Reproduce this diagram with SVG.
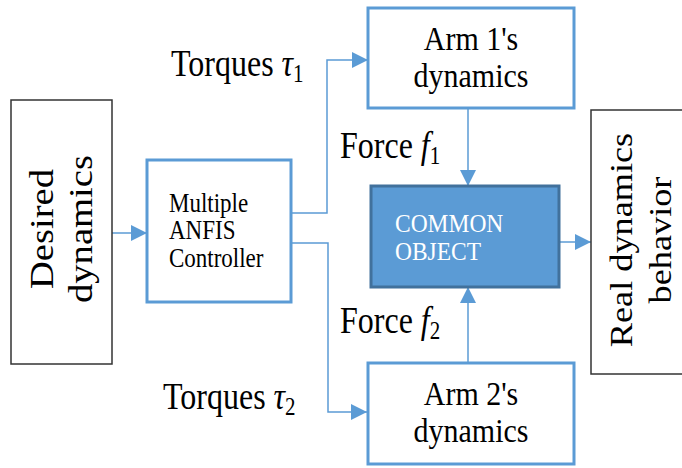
<svg xmlns="http://www.w3.org/2000/svg" width="682" height="468" viewBox="0 0 682 468">
  <style>
    .lbl { font-family: "Liberation Serif", "Times New Roman", serif; fill: #000; }
    .blue { fill: #fff; stroke: #5B9BD5; stroke-width: 3; }
    .plain { fill: #fff; stroke: #333; stroke-width: 1.5; }
    .wire { fill: none; stroke: #5B9BD5; stroke-width: 1.5; marker-end: url(#tip); }
    .it { font-style: italic; }
  </style>
  <defs>
    <marker id="tip" viewBox="0 0 16 16" refX="16" refY="8" markerWidth="16" markerHeight="16" markerUnits="userSpaceOnUse" orient="auto">
      <path d="M0,0 L16,8 L0,16 z" fill="#5B9BD5"/>
    </marker>
  </defs>

  <rect width="682" height="468" fill="#fff"/>

  <!-- connectors -->
  <g id="connectors">
    <path class="wire" d="M112,233 H147"/>
    <path class="wire" d="M291,213 H327 V60 H368"/>
    <path class="wire" d="M291,243 H328 V412 H367"/>
    <path class="wire" d="M468,108 V186"/>
    <path class="wire" d="M468,363 V287"/>
    <path class="wire" d="M559,242 H591"/>
  </g>

  <!-- input block -->
  <g id="desired">
    <rect class="plain" x="11" y="100" width="101" height="264"/>
    <g transform="translate(0 229) scale(1 1.17) rotate(-90)">
      <text class="lbl" font-size="33" text-anchor="middle" x="0" y="53">Desired</text>
      <text class="lbl" font-size="33" text-anchor="middle" x="0" y="92">dynamics</text>
    </g>
  </g>

  <!-- controller -->
  <g id="controller">
    <rect class="blue" x="147" y="160" width="144" height="142"/>
    <g class="lbl" font-size="23">
      <text transform="translate(169 212) scale(1 1.17)">Multiple</text>
      <text transform="translate(169 239) scale(1 1.17)">ANFIS</text>
      <text transform="translate(169 267) scale(1 1.17)">Controller</text>
    </g>
  </g>

  <!-- arm 1 -->
  <g id="arm1">
    <rect class="blue" x="368" y="8" width="206" height="100"/>
    <g class="lbl" font-size="30" text-anchor="middle">
      <text transform="translate(471 50) scale(1 1.1)">Arm 1's</text>
      <text transform="translate(471 87) scale(1 1.1)">dynamics</text>
    </g>
  </g>

  <!-- arm 2 -->
  <g id="arm2">
    <rect class="blue" x="368" y="363" width="206" height="101"/>
    <g class="lbl" font-size="30" text-anchor="middle">
      <text transform="translate(471 405) scale(1 1.1)">Arm 2's</text>
      <text transform="translate(471 442) scale(1 1.1)">dynamics</text>
    </g>
  </g>

  <!-- shared object -->
  <g id="object">
    <rect x="371" y="186" width="188" height="101" fill="#5B9BD5" stroke="#41719C" stroke-width="3"/>
    <g font-family="Liberation Serif, Times New Roman, serif" font-size="23.5" fill="#fff">
      <text transform="translate(395 232) scale(1 1.1)">COMMON</text>
      <text transform="translate(395 260) scale(1 1.1)">OBJECT</text>
    </g>
  </g>

  <!-- output block -->
  <g id="real">
    <rect class="plain" x="591" y="110" width="100" height="264"/>
    <g transform="translate(0 240) scale(1 1.17) rotate(-90)">
      <text class="lbl" font-size="31" text-anchor="middle" x="0" y="632">Real dynamics</text>
      <text class="lbl" font-size="31" text-anchor="middle" x="0" y="671">behavior</text>
    </g>
  </g>

  <!-- signal labels -->
  <g id="labels" class="lbl" font-size="32">
    <text transform="translate(171 76) scale(1 1.17)">Torques <tspan class="it">τ</tspan><tspan font-size="21" dy="5">1</tspan></text>
    <text transform="translate(163 409) scale(1 1.17)">Torques <tspan class="it">τ</tspan><tspan font-size="21" dy="5">2</tspan></text>
    <text transform="translate(340 158) scale(1 1.17)">Force <tspan class="it">f</tspan><tspan font-size="21" dy="5">1</tspan></text>
    <text transform="translate(340 333) scale(1 1.17)">Force <tspan class="it">f</tspan><tspan font-size="21" dy="5">2</tspan></text>
  </g>
</svg>
